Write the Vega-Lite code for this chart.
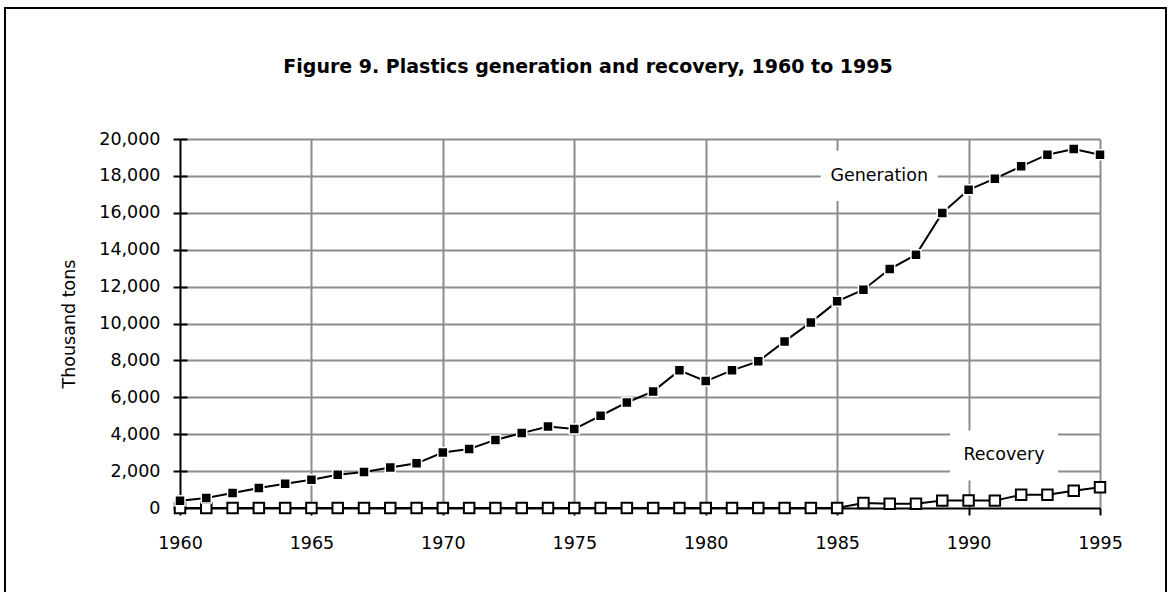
{
  "$schema": "https://vega.github.io/schema/vega-lite/v6.json",
  "width": 920,
  "height": 369,
  "autosize": "none",
  "padding": {"left": 180, "top": 139, "right": 75, "bottom": 84},
  "background": "white",
  "title": {
    "text": "Figure 9. Plastics generation and recovery, 1960 to 1995",
    "font": "DejaVu Sans",
    "fontSize": 19,
    "fontWeight": "bold",
    "color": "black",
    "anchor": "middle",
    "frame": "group",
    "dx": -52,
    "baseline": "alphabetic",
    "offset": -85
  },
  "datasets": {
    "series": [
      {"year": 1960, "series": "Generation", "value": 390},
      {"year": 1961, "series": "Generation", "value": 540},
      {"year": 1962, "series": "Generation", "value": 810},
      {"year": 1963, "series": "Generation", "value": 1080},
      {"year": 1964, "series": "Generation", "value": 1320},
      {"year": 1965, "series": "Generation", "value": 1530},
      {"year": 1966, "series": "Generation", "value": 1800},
      {"year": 1967, "series": "Generation", "value": 1950},
      {"year": 1968, "series": "Generation", "value": 2200},
      {"year": 1969, "series": "Generation", "value": 2420},
      {"year": 1970, "series": "Generation", "value": 3010},
      {"year": 1971, "series": "Generation", "value": 3200},
      {"year": 1972, "series": "Generation", "value": 3690},
      {"year": 1973, "series": "Generation", "value": 4060},
      {"year": 1974, "series": "Generation", "value": 4420},
      {"year": 1975, "series": "Generation", "value": 4280},
      {"year": 1976, "series": "Generation", "value": 5000},
      {"year": 1977, "series": "Generation", "value": 5720},
      {"year": 1978, "series": "Generation", "value": 6320},
      {"year": 1979, "series": "Generation", "value": 7460},
      {"year": 1980, "series": "Generation", "value": 6880},
      {"year": 1981, "series": "Generation", "value": 7460},
      {"year": 1982, "series": "Generation", "value": 7950},
      {"year": 1983, "series": "Generation", "value": 9030},
      {"year": 1984, "series": "Generation", "value": 10060},
      {"year": 1985, "series": "Generation", "value": 11200},
      {"year": 1986, "series": "Generation", "value": 11830},
      {"year": 1987, "series": "Generation", "value": 12950},
      {"year": 1988, "series": "Generation", "value": 13730},
      {"year": 1989, "series": "Generation", "value": 15990},
      {"year": 1990, "series": "Generation", "value": 17250},
      {"year": 1991, "series": "Generation", "value": 17850},
      {"year": 1992, "series": "Generation", "value": 18520},
      {"year": 1993, "series": "Generation", "value": 19150},
      {"year": 1994, "series": "Generation", "value": 19460},
      {"year": 1995, "series": "Generation", "value": 19150},
      {"year": 1960, "series": "Recovery", "value": 0},
      {"year": 1961, "series": "Recovery", "value": 0},
      {"year": 1962, "series": "Recovery", "value": 0},
      {"year": 1963, "series": "Recovery", "value": 0},
      {"year": 1964, "series": "Recovery", "value": 0},
      {"year": 1965, "series": "Recovery", "value": 0},
      {"year": 1966, "series": "Recovery", "value": 0},
      {"year": 1967, "series": "Recovery", "value": 0},
      {"year": 1968, "series": "Recovery", "value": 0},
      {"year": 1969, "series": "Recovery", "value": 0},
      {"year": 1970, "series": "Recovery", "value": 0},
      {"year": 1971, "series": "Recovery", "value": 0},
      {"year": 1972, "series": "Recovery", "value": 0},
      {"year": 1973, "series": "Recovery", "value": 0},
      {"year": 1974, "series": "Recovery", "value": 0},
      {"year": 1975, "series": "Recovery", "value": 0},
      {"year": 1976, "series": "Recovery", "value": 0},
      {"year": 1977, "series": "Recovery", "value": 0},
      {"year": 1978, "series": "Recovery", "value": 0},
      {"year": 1979, "series": "Recovery", "value": 0},
      {"year": 1980, "series": "Recovery", "value": 0},
      {"year": 1981, "series": "Recovery", "value": 0},
      {"year": 1982, "series": "Recovery", "value": 0},
      {"year": 1983, "series": "Recovery", "value": 0},
      {"year": 1984, "series": "Recovery", "value": 0},
      {"year": 1985, "series": "Recovery", "value": 0},
      {"year": 1986, "series": "Recovery", "value": 270},
      {"year": 1987, "series": "Recovery", "value": 230},
      {"year": 1988, "series": "Recovery", "value": 230},
      {"year": 1989, "series": "Recovery", "value": 400},
      {"year": 1990, "series": "Recovery", "value": 410},
      {"year": 1991, "series": "Recovery", "value": 400},
      {"year": 1992, "series": "Recovery", "value": 720},
      {"year": 1993, "series": "Recovery", "value": 720},
      {"year": 1994, "series": "Recovery", "value": 940},
      {"year": 1995, "series": "Recovery", "value": 1120}
    ],
    "labels": [
      {"label": "Generation", "year": 1986.6, "value": 18000},
      {"label": "Recovery", "year": 1991.35, "value": 2850}
    ]
  },
  "layer": [
    {
      "data": {"name": "series"},
      "mark": {"type": "line", "color": "black", "strokeWidth": 2},
      "encoding": {
        "x": {"field": "year", "type": "quantitative", "scale": {"domain": [1960, 1995], "nice": false, "zero": false},
          "axis": {"values": [1960, 1965, 1970, 1975, 1980, 1985, 1990, 1995], "format": "d", "title": null,
            "grid": true, "labelFlush": false, "labelOverlap": false,
            "gridColor": {"condition": {"test": "datum.value === 1960", "value": "transparent"}, "value": "#8c8c8c"},
            "labelPadding": 19}},
        "y": {"field": "value", "type": "quantitative", "scale": {"domain": [0, 20000], "nice": false},
          "axis": {"values": [0, 2000, 4000, 6000, 8000, 10000, 12000, 14000, 16000, 18000, 20000], "format": ",d",
            "title": "Thousand tons", "titlePadding": 20, "grid": true, "labelFlush": false, "labelOverlap": false,
            "gridColor": {"condition": {"test": "datum.value === 0", "value": "transparent"}, "value": "#8c8c8c"},
            "labelPadding": 13}},
        "detail": {"field": "series"}
      }
    },
    {
      "data": {"name": "labels"},
      "transform": [{"filter": "datum.label === 'Generation'"}],
      "mark": {"type": "point", "shape": "M-1,-0.43H1V0.43H-1Z", "filled": true, "fill": "white", "stroke": null, "opacity": 1, "size": 13689},
      "encoding": {
        "x": {"field": "year", "type": "quantitative"},
        "y": {"field": "value", "type": "quantitative", "axis": null}
      }
    },
    {
      "data": {"name": "labels"},
      "transform": [{"filter": "datum.label === 'Recovery'"}],
      "mark": {"type": "point", "shape": "M-1,-0.463H1V0.463H-1Z", "filled": true, "fill": "white", "stroke": null, "opacity": 1, "size": 11664},
      "encoding": {
        "x": {"field": "year", "type": "quantitative"},
        "y": {"field": "value", "type": "quantitative", "axis": null}
      }
    },
    {
      "data": {"name": "labels"},
      "mark": {"type": "text", "font": "DejaVu Sans", "fontSize": 17.5, "color": "black", "align": "center", "baseline": "middle"},
      "encoding": {
        "x": {"field": "year", "type": "quantitative"},
        "y": {"field": "value", "type": "quantitative", "axis": null},
        "text": {"field": "label"}
      }
    },
    {
      "data": {"name": "series"},
      "transform": [{"filter": "datum.series === 'Recovery'"}],
      "mark": {"type": "point", "shape": "square", "filled": true, "fill": "white", "stroke": "black", "strokeWidth": 2, "opacity": 1, "size": 110},
      "encoding": {
        "x": {"field": "year", "type": "quantitative"},
        "y": {"field": "value", "type": "quantitative",
          "axis": {"orient": "left", "values": [0, 2000, 4000, 6000, 8000, 10000, 12000, 14000, 16000, 18000, 20000],
            "tickSize": -7, "labels": false, "domain": false, "grid": false, "title": null}}
      }
    },
    {
      "data": {"name": "series"},
      "transform": [{"filter": "datum.series === 'Generation'"}],
      "mark": {"type": "point", "shape": "square", "filled": true, "fill": "black", "stroke": "white", "strokeWidth": 1.5, "opacity": 1, "size": 100},
      "encoding": {
        "x": {"field": "year", "type": "quantitative"},
        "y": {"field": "value", "type": "quantitative", "axis": null}
      }
    },
    {
      "data": {"values": [{}]},
      "mark": {"type": "rect", "fill": null, "fillOpacity": 0, "stroke": "black", "strokeWidth": 2},
      "encoding": {
        "x": {"datum": 1953.342, "type": "quantitative"},
        "x2": {"datum": 1997.511},
        "y": {"datum": 27100, "type": "quantitative", "axis": null},
        "y2": {"datum": -4986}
      }
    }
  ],
  "resolve": {"axis": {"y": "independent"}},
  "config": {
    "view": {"stroke": null},
    "axis": {
      "labelFont": "DejaVu Sans",
      "labelFontSize": 17.5,
      "labelColor": "black",
      "titleFont": "DejaVu Sans",
      "titleFontSize": 17.5,
      "titleFontWeight": "normal",
      "titleColor": "black",
      "domainColor": "black",
      "domainWidth": 2,
      "tickColor": "black",
      "tickWidth": 2,
      "tickSize": 7,
      "gridWidth": 2,
      "gridOpacity": 1
    }
  }
}
